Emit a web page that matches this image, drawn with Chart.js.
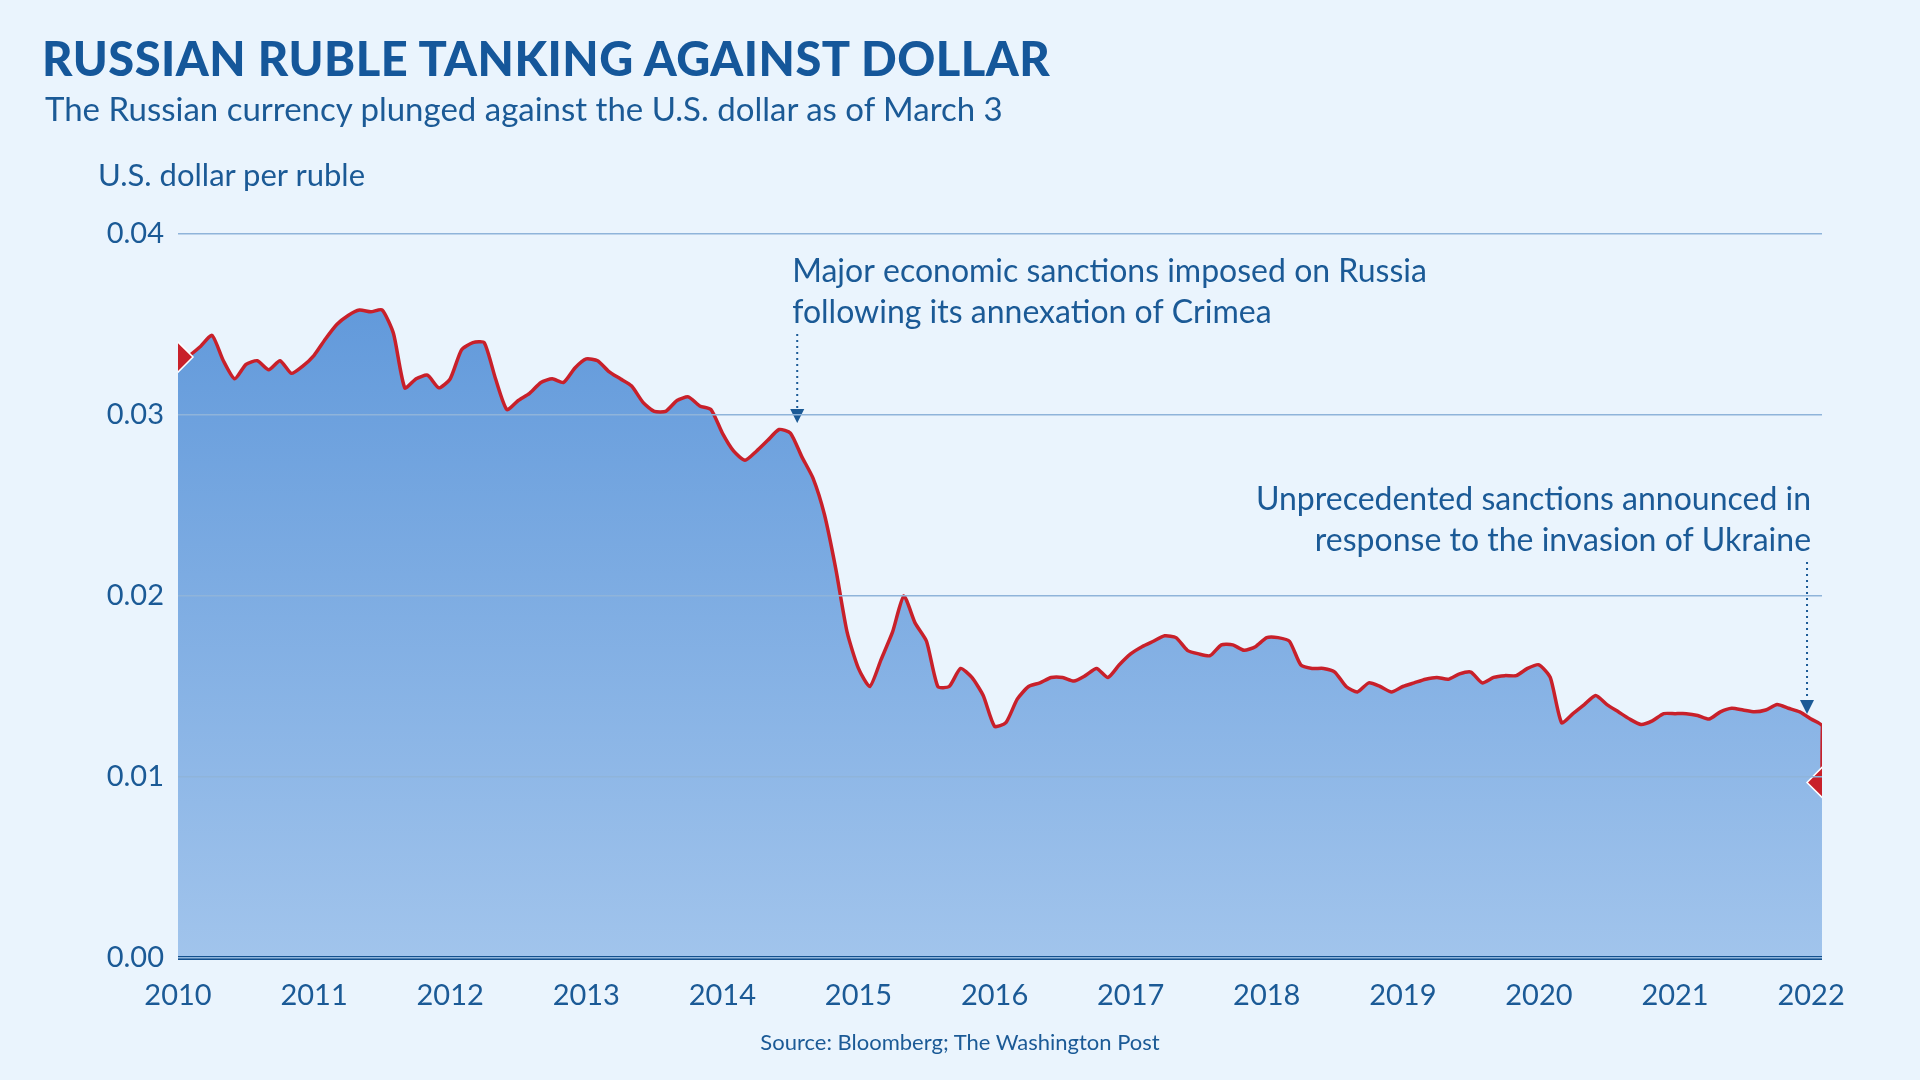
<!DOCTYPE html>
<html>
<head>
<meta charset="utf-8">
<script src="https://cdn.jsdelivr.net/npm/chart.js@4"></script>
<style>
  body { margin: 0; background: #eaf4fd; font-family: "Lato", "Open Sans", sans-serif; }
  #wrap { position: relative; width: 1920px; height: 1080px; overflow: hidden; }
  #chart { position: absolute; left: 0; top: 0; }
  .t { position: absolute; white-space: nowrap; color: #1b5a96; }
  #title { left: 42px; top: 30px; font-size: 47px; font-weight: 900; color: #15579a; letter-spacing: 0.5px; }
  #sub { left: 45px; top: 88px; font-size: 33px; }
  #ytitle { left: 98px; top: 155px; font-size: 31px; }
  #src { left: 0; width: 1920px; text-align: center; top: 1028px; font-size: 22px; }
</style>
</head>
<body>
<div id="wrap">
  <canvas id="chart" width="1920" height="1080"></canvas>
  <div class="t" id="title">RUSSIAN RUBLE TANKING AGAINST DOLLAR</div>
  <div class="t" id="sub">The Russian currency plunged against the U.S. dollar as of March 3</div>
  <div class="t" id="ytitle">U.S. dollar per ruble</div>
  <div class="t" id="src">Source: Bloomberg; The Washington Post</div>
</div>
<script>
// monthly readings, starting Jan 2010
const valores = [
  0.0332, 0.0333, 0.0338, 0.0344, 0.0330, 0.0320, 0.0328, 0.0330, 0.0325, 0.0330, 0.0323, 0.0327,
  0.0333, 0.0342, 0.0350, 0.0355, 0.0358, 0.0357, 0.0358, 0.0345, 0.0315, 0.0320, 0.0322, 0.0315,
  0.0320, 0.0336, 0.0340, 0.0340, 0.0320, 0.0303, 0.0308, 0.0312, 0.0318, 0.0320, 0.0318, 0.0326,
  0.0331, 0.0330, 0.0324, 0.0320, 0.0316, 0.0307, 0.0302, 0.0302, 0.0308, 0.0310, 0.0305, 0.0303,
  0.0290, 0.0280, 0.0275, 0.0280, 0.0286, 0.0292, 0.0290, 0.0277, 0.0265, 0.0245, 0.0215, 0.0180,
  0.0160, 0.0150, 0.0165, 0.0180, 0.0200, 0.0185, 0.0175, 0.0150, 0.0150, 0.0160, 0.0155, 0.0145,
  0.0128, 0.0130, 0.0143, 0.0150, 0.0152, 0.0155, 0.0155, 0.0153, 0.0156, 0.0160, 0.0155, 0.0162,
  0.0168, 0.0172, 0.0175, 0.0178, 0.0177, 0.0170, 0.0168, 0.0167, 0.0173, 0.0173, 0.0170, 0.0172,
  0.0177, 0.0177, 0.0175, 0.0162, 0.0160, 0.0160, 0.0158, 0.0150, 0.0147, 0.0152, 0.0150, 0.0147,
  0.0150, 0.0152, 0.0154, 0.0155, 0.0154, 0.0157, 0.0158, 0.0152, 0.0155, 0.0156, 0.0156, 0.0160,
  0.0162, 0.0155, 0.0130, 0.0135, 0.0140, 0.0145, 0.0140, 0.0136, 0.0132, 0.0129, 0.0131, 0.0135,
  0.0135, 0.0135, 0.0134, 0.0132, 0.0136, 0.0138, 0.0137, 0.0136, 0.0137, 0.0140, 0.0138, 0.0136,
  0.0132, 0.0128
];
const finalData = 2022.08;
const finalValor = 0.0097;
const anos = [2010, 2011, 2012, 2013, 2014, 2015, 2016, 2017, 2018, 2019, 2020, 2021, 2022];
const yTicks = [0, 0.01, 0.02, 0.03, 0.04];

const anotacoes = [
  { x: 2014.55, y: 0.0297, linhas: ["Major economic sanctions imposed on Russia", "following its annexation of Crimea"], align: "left", dx: -5, topo: 272, base: 423 },
  { x: 2021.97, y: 0.0135, linhas: ["Unprecedented sanctions announced in", "response to the invasion of Ukraine"], align: "right", dx: 4, topo: 500, base: 714 },
];

var pontos = valores.map(function (v, i) { return { x: 2010 + i / 12, y: v }; });
pontos.push({ x: finalData, y: finalValor });

const anotPlugin = {
  id: "anot",
  afterDatasetsDraw: function (chart) {
    var ctx = chart.ctx;
    var xs = chart.scales.x;
    ctx.save();
    anotacoes.forEach(function (a) {
      var px = xs.getPixelForValue(a.x);
      ctx.font = "32px Lato, 'Open Sans', sans-serif";
      ctx.fillStyle = "#1b5a96";
      ctx.textAlign = a.align;
      ctx.textBaseline = "middle";
      a.linhas.forEach(function (l, i) {
        ctx.fillText(l, px + a.dx, a.topo + i * 41);
      });
      var y0 = a.topo + 62;
      ctx.strokeStyle = "#1b5a96";
      ctx.lineWidth = 2;
      ctx.setLineDash([2, 4]);
      ctx.beginPath();
      ctx.moveTo(px, y0);
      ctx.lineTo(px, a.base - 12);
      ctx.stroke();
      ctx.setLineDash([]);
      ctx.fillStyle = "#1b5a96";
      ctx.beginPath();
      ctx.moveTo(px - 7, a.base - 14);
      ctx.lineTo(px + 7, a.base - 14);
      ctx.lineTo(px, a.base);
      ctx.closePath();
      ctx.fill();
    });
    // baseline
    var ys = chart.scales.y;
    ctx.strokeStyle = "#12508e";
    ctx.lineWidth = 4;
    ctx.beginPath();
    ctx.moveTo(chart.chartArea.left, ys.getPixelForValue(0));
    ctx.lineTo(chart.chartArea.right, ys.getPixelForValue(0));
    ctx.stroke();
    ctx.restore();
  },
};

var canvas = document.getElementById("chart");
var ctx0 = canvas.getContext("2d");
var grad = ctx0.createLinearGradient(0, 234, 0, 958);
grad.addColorStop(0, "#5b95d9");
grad.addColorStop(1, "#a1c4ec");

new Chart(canvas, {
  type: "line",
  data: {
    datasets: [
      {
        data: pontos,
        borderColor: "#c8202a",
        borderWidth: 3.5,
        backgroundColor: grad,
        fill: "origin",
        tension: 0.2,
        pointStyle: "rectRot",
        pointRadius: pontos.map(function (p, i) { return i === 0 || i === pontos.length - 1 ? 15 : 0; }),
        pointBackgroundColor: "#c8202a",
        pointBorderColor: "#ffffff",
        pointBorderWidth: 1.5,
      },
    ],
  },
  options: {
    responsive: false,
    animation: false,
    layout: { padding: { top: 234, right: 98, left: 0, bottom: 0 } },
    plugins: { legend: { display: false }, tooltip: { enabled: false } },
    scales: {
      x: {
        type: "linear",
        min: 2010,
        max: finalData,
        afterFit: function (s) { s.height = 122; },
        afterBuildTicks: function (s) { s.ticks = anos.map(function (v) { return { value: v }; }); },
        ticks: {
          color: "#1b5a96",
          font: { size: 29, family: "Lato, 'Open Sans', sans-serif" },
          padding: 12,
          maxRotation: 0,
          callback: function (v) { return String(v); },
        },
        grid: { display: false },
        border: { display: false },
      },
      y: {
        min: 0,
        max: 0.04,
        afterFit: function (s) { s.width = 178; },
        afterBuildTicks: function (s) { s.ticks = yTicks.map(function (v) { return { value: v }; }); },
        ticks: {
          color: "#1b5a96",
          font: { size: 29, family: "Lato, 'Open Sans', sans-serif" },
          padding: 14,
          callback: function (v) { return v.toFixed(2); },
        },
        grid: { color: "#8fb4da", lineWidth: 1.5, drawTicks: false, z: 1 },
        border: { display: false },
      },
    },
  },
  plugins: [anotPlugin],
});
</script>
</body>
</html>
